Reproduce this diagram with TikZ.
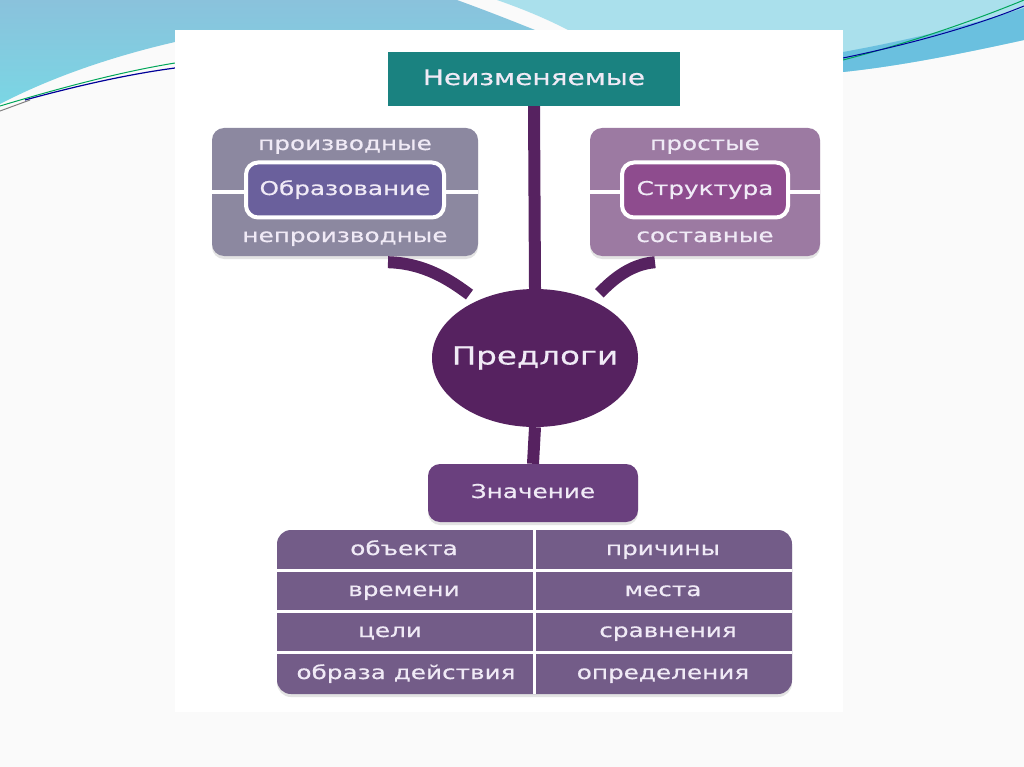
\documentclass[tikz,border=0pt]{standalone}
\usepackage{fontspec}
\setmainfont{DejaVu Sans}[FakeStretch=1.3, FakeBold=0.5]
\usetikzlibrary{calc,shapes.geometric,shadows}
\definecolor{slidebg}{RGB}{250,250,250}
\definecolor{skyA}{RGB}{138,194,220}
\definecolor{skyB}{RGB}{122,214,228}
\definecolor{skyC}{RGB}{170,224,236}
\definecolor{skyD}{RGB}{90,184,220}
\definecolor{tealbox}{RGB}{26,130,128}
\definecolor{plum}{RGB}{86,34,96}
\definecolor{greyout}{RGB}{140,136,160}
\definecolor{greyin}{RGB}{106,96,156}
\definecolor{mauveout}{RGB}{156,122,162}
\definecolor{mauvein}{RGB}{142,76,142}
\definecolor{meanbox}{RGB}{106,64,126}
\definecolor{tablebox}{RGB}{115,92,136}
\definecolor{lighttext}{RGB}{240,234,246}
\tikzset{
  boxtext/.style={text=lighttext, font=\fontsize{19}{22}\selectfont, text height=14pt, text depth=4pt},
  softshadow/.style={drop shadow={opacity=0.22, shadow xshift=0pt, shadow yshift=-3pt}},
  outerbox/.style={rounded corners=12pt, minimum width=266pt, minimum height=128pt, inner sep=0pt, softshadow},
  innerbox/.style={rounded corners=12pt, draw=white, line width=4pt, minimum width=198pt, minimum height=55pt, inner sep=0pt, boxtext},
  conn/.style={draw=plum, line width=12pt},
  cell/.style={boxtext, inner sep=0pt}
}
\begin{document}
\begin{tikzpicture}[x=1pt,y=-1pt]
\useasboundingbox (0,0) rectangle (1024,767);
\fill[slidebg] (0,0) rectangle (1024,767);
% background swooshes
\shade[top color=skyA, bottom color=skyB] (0,0) -- (457,0) .. controls (490,12) and (515,22) .. (540,32) -- (540,45) -- (175,45) -- (175,42) .. controls (110,57) and (50,78) .. (0,104) -- cycle;
\fill[skyC] (497,0) -- (1024,0) -- (1024,40) .. controls (960,54) and (900,66) .. (843,72) -- (843,30) -- (568,30) .. controls (545,18) and (520,8) .. (497,0) -- cycle;
\fill[skyD!80!skyC] (843,52) .. controls (920,38) and (980,22) .. (1024,8) -- (1024,40) .. controls (960,54) and (900,66) .. (843,72) -- cycle;
\draw[line width=1pt, teal!70!green] (0,106) .. controls (60,88) and (120,72) .. (175,63);
\draw[line width=1.2pt, blue!60!black] (25,100) .. controls (80,85) and (130,74) .. (175,68);
\draw[line width=1pt, gray] (0,111) -- (30,100);
\draw[line width=1pt, teal!70!green] (843,60) .. controls (920,40) and (980,18) .. (1024,0);
\draw[line width=1pt, blue!60!black] (843,58) .. controls (930,40) and (990,20) .. (1024,6);
% picture area
\fill[white] (175,30) rectangle (843,712);
% top box
\node[fill=tealbox, minimum width=292pt, minimum height=54pt, inner sep=0pt, text=lighttext, font=\fontsize{21.5}{24}\selectfont, text height=16pt, text depth=4pt] (neiz) at (534,79) {Неизменяемые};
% left group
\node[outerbox, fill=greyout] (obrout) at (345,192) {};
\draw[white, line width=4pt] (obrout.west) -- (obrout.east);
\node[innerbox, fill=greyin] (obr) at (345,190) {Образование};
\node[boxtext] (proizv) at (345,145) {производные};
\node[boxtext] (neproizv) at (345,237) {непроизводные};
% right group
\node[outerbox, fill=mauveout, minimum width=230pt] (strout) at (705,192) {};
\draw[white, line width=4pt] (strout.west) -- (strout.east);
\node[innerbox, fill=mauvein, minimum width=166pt] (str) at (705,190) {Структура};
\node[boxtext] (prost) at (705,145) {простые};
\node[boxtext] (sost) at (705,237) {составные};
% centre
\node[ellipse, fill=plum, minimum width=206pt, minimum height=138pt, inner sep=0pt] (pred) at (535,358) {};
\node[text=lighttext, font=\fontsize{25}{29}\selectfont, text height=18pt, text depth=5pt, inner sep=0pt] (predtxt) at (pred.center) {Предлоги};
% meaning
\node[fill=meanbox, rounded corners=12pt, minimum width=210pt, minimum height=58pt, inner sep=0pt, boxtext, softshadow] (zn) at (533,493) {Значение};
% connectors
\draw[conn] (neiz.south) -- (pred.north);
\draw[conn] (pred.south) -- (zn.north);
\draw[conn, shorten >=10pt] ($(obrout.south)+(43,6)$) .. controls ($(obrout.south)+(80,7)$) and ($(obrout.south)+(105,24)$) .. (pred.135);
\draw[conn, shorten >=10pt] ($(strout.south)+(-50,6)$) .. controls ($(strout.south)+(-75,8)$) and ($(strout.south)+(-93,24)$) .. (pred.45);
% table
\node[fill=tablebox, rounded corners=14pt, minimum width=515pt, minimum height=164pt, inner sep=0pt, softshadow] (tab) at (534.5,612) {};
\draw[white, line width=3pt] (tab.north) -- (tab.south);
\draw[white, line width=3pt] (tab.west |- 0,570.5) -- (tab.east |- 0,570.5);
\draw[white, line width=3pt] (tab.west |- 0,611.5) -- (tab.east |- 0,611.5);
\draw[white, line width=3pt] (tab.west |- 0,652.5) -- (tab.east |- 0,652.5);
\node[cell] (c11) at (404,550) {объекта};
\node[cell] (c12) at (663,550) {причины};
\node[cell] (c21) at (404,591) {времени};
\node[cell] (c22) at (663,591) {места};
\node[cell] (c31) at (390,632) {цели};
\node[cell] (c32) at (668,632) {сравнения};
\node[cell] (c41) at (406,674) {образа действия};
\node[cell] (c42) at (663,674) {определения};
\end{tikzpicture}
\end{document}
